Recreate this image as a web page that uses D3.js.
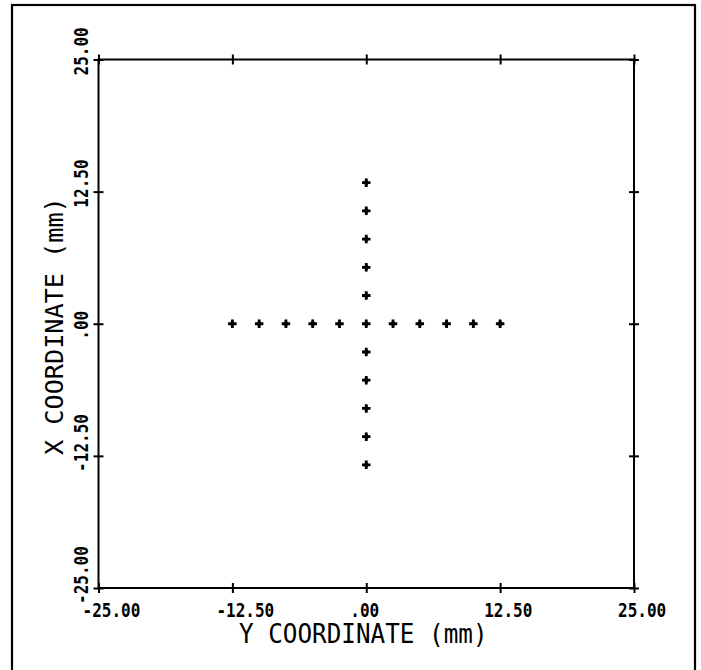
<!DOCTYPE html>
<html>
<head>
<meta charset="utf-8">
<script src="https://cdn.jsdelivr.net/npm/d3@7"></script>
<style>
  body { margin: 0; background: #fff; }
  text { font-family: "DejaVu Sans Mono", monospace; fill: #000; }
</style>
</head>
<body>
<div id="chart"></div>
<script>
// Axis ticks and labels (mm)
const tickValues = [-25, -12.5, 0, 12.5, 25];
const tickLabels = ['-25.00', '-12.50', '.00', '12.50', '25.00'];

// Grid points: the horizontal row (Y coordinate, X = 0)
const rowY = [-12.5, -10, -7.5, -5, -2.5, 0, 2.5, 5, 7.5, 10, 12.5];
// the vertical column (X coordinate, Y = 0)
const colX = [-13.35, -10.68, -8.01, -5.34, -2.67, 2.67, 5.34, 8.01, 10.68, 13.35];

const width = 701, height = 670;
const svg = d3.select('#chart')
    .append('svg')
    .attr('width', width)
    .attr('height', height);

// Outer frame (bottom edge falls off the page)
svg.append('rect')
    .attr('x', 12).attr('y', 5)
    .attr('width', 683).attr('height', 720)
    .attr('fill', 'none')
    .attr('stroke', '#000')
    .attr('stroke-width', 2.2);

const x = d3.scaleLinear().domain([-25, 25]).range([98.5, 634]);
const y = d3.scaleLinear().domain([-25, 25]).range([588, 59.5]);

// Plot box
svg.append('rect')
    .attr('x', x(-25)).attr('y', y(25))
    .attr('width', x(25) - x(-25)).attr('height', y(-25) - y(25))
    .attr('fill', 'none')
    .attr('stroke', '#000')
    .attr('stroke-width', 2);

// Cross ticks on all four sides: two opposite axes at the same place
function crossTicks(axisA, axisB, transform) {
    [axisA, axisB].forEach(ax => {
        const g = svg.append('g')
            .attr('transform', transform)
            .call(ax.tickValues(tickValues).tickSize(5).tickFormat(''));
        g.select('.domain').remove();
        g.selectAll('line').attr('stroke', '#000').attr('stroke-width', 2);
    });
}
crossTicks(d3.axisBottom(x), d3.axisTop(x), `translate(0,${y(-25)})`);
crossTicks(d3.axisBottom(x), d3.axisTop(x), `translate(0,${y(25)})`);
crossTicks(d3.axisLeft(y), d3.axisRight(y), `translate(${x(-25)},0)`);
crossTicks(d3.axisLeft(y), d3.axisRight(y), `translate(${x(25)},0)`);

// Bottom tick labels
svg.append('g')
    .selectAll('text')
    .data(tickValues)
    .enter()
    .append('text')
    .attr('transform', (d, i) => `translate(${x(d) - 16},617) scale(0.8,1)`)
    .style('font-size', '20px')
    .style('font-weight', 'bold')
    .text((d, i) => tickLabels[i]);

// Left tick labels (rotated)
svg.append('g')
    .selectAll('text')
    .data(tickValues)
    .enter()
    .append('text')
    .attr('transform', d => `translate(88,${y(d) + 16}) rotate(-90) scale(0.8,1)`)
    .style('font-size', '20px')
    .style('font-weight', 'bold')
    .text((d, i) => tickLabels[i]);

// Axis titles
svg.append('text')
    .attr('transform', 'translate(239,643) scale(0.9,1)')
    .style('font-size', '27px')
    .text('Y COORDINATE (mm)');

svg.append('text')
    .attr('transform', 'translate(63,455) rotate(-90) scale(1.05,1)')
    .style('font-size', '24px')
    .text('X COORDINATE (mm)');

// Points: fat plus marks (cross over a small diamond)
const points = rowY.map(v => ({ y: v, x: 0 }))
    .concat(colX.map(v => ({ y: 0, x: v })));

const pts = svg.append('g')
    .selectAll('g')
    .data(points)
    .enter()
    .append('g')
    .attr('transform', d => `translate(${x(d.y)},${y(d.x)})`);

pts.append('path')
    .attr('d', d3.symbol().type(d3.symbolCross).size(40))
    .attr('fill', '#000');
pts.append('path')
    .attr('d', d3.symbol().type(d3.symbolDiamond).size(22))
    .attr('fill', '#000');
</script>
</body>
</html>
